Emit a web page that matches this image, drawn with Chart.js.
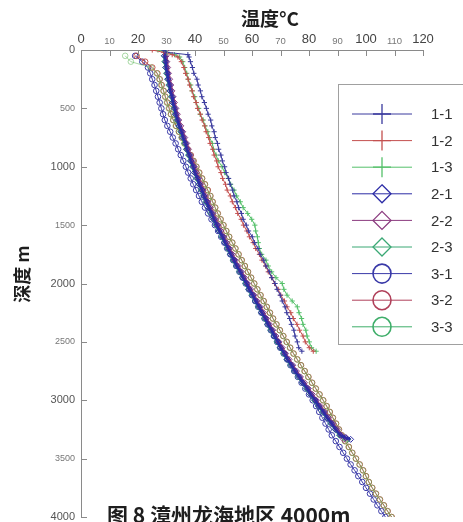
<!DOCTYPE html>
<html>
<head>
<meta charset="utf-8">
<script src="https://cdn.jsdelivr.net/npm/chart.js@4.4.1/dist/chart.umd.min.js"></script>
<style>
  html, body { margin: 0; padding: 0; background: #fff; }
  #wrap { position: relative; width: 463px; height: 522px; }
</style>
</head>
<body>
<div id="wrap"><canvas id="tempChart"></canvas></div>
<script>
// depth (m) for each group of wells
const depth1 = [0, 20, 40, 60, 100, 150, 200, 250, 300, 350, 400, 450, 500, 550, 600, 650, 700, 750, 800, 850,
  900, 950, 1000, 1050, 1100, 1150, 1200, 1250, 1300, 1350, 1400, 1450, 1500, 1550, 1600, 1650, 1700, 1750, 1800,
  1850, 1900, 1950, 2000, 2050, 2100, 2150, 2200, 2250, 2300, 2350, 2400, 2450, 2500, 2550, 2580];
const depth2 = [0, 50, 100, 150, 200, 250, 300, 350, 400, 450, 500, 550, 600, 650, 700, 750, 800, 850, 900, 950,
  1000, 1050, 1100, 1150, 1200, 1250, 1300, 1350, 1400, 1450, 1500, 1550, 1600, 1650, 1700, 1750, 1800, 1850, 1900,
  1950, 2000, 2050, 2100, 2150, 2200, 2250, 2300, 2350, 2400, 2450, 2500, 2550, 2600, 2650, 2700, 2750, 2800, 2850,
  2900, 2950, 3000, 3050, 3100, 3150, 3200, 3250, 3300, 3320, 3335];
const depth3 = [50, 100, 150, 200, 250, 300, 350, 400, 450, 500, 550, 600, 650, 700, 750, 800, 850, 900, 950, 1000,
  1050, 1100, 1150, 1200, 1250, 1300, 1350, 1400, 1450, 1500, 1550, 1600, 1650, 1700, 1750, 1800, 1850, 1900, 1950,
  2000, 2050, 2100, 2150, 2200, 2250, 2300, 2350, 2400, 2450, 2500, 2550, 2600, 2650, 2700, 2750, 2800, 2850, 2900,
  2950, 3000, 3050, 3100, 3150, 3200, 3250, 3300, 3350, 3400, 3450, 3500, 3550, 3600, 3650, 3700, 3750, 3800, 3850,
  3900, 3950, 4000];

// temperature (°C)
const t11 = [29, 30.2, 37.5, 37.9, 38.4, 39.1, 39.6, 40.7, 41.1, 41.9, 42.4, 43.3, 44.0, 44.6, 45.5, 45.9, 46.7,
  47.1, 47.9, 48.3, 49.1, 49.6, 50.4, 50.9, 51.8, 52.3, 53.2, 53.7, 54.7, 55.3, 56.3, 56.9, 58.0, 58.8, 60.1, 60.9,
  62.1, 62.9, 64.1, 64.9, 66.1, 66.9, 68.1, 68.8, 69.9, 70.6, 71.6, 72.2, 73.2, 73.8, 74.7, 75.1, 75.9, 76.4, 77.5];
const t12 = [25, 29, 32, 34, 35.2, 36.1, 36.7, 37.6, 38.1, 39.0, 39.5, 40.4, 40.9, 41.9, 42.5, 43.4, 43.9, 44.8,
  45.3, 46.2, 46.7, 47.6, 48.1, 49.1, 49.7, 50.7, 51.3, 52.4, 53.1, 54.2, 55.0, 56.2, 57.0, 58.2, 59.1, 60.4, 61.3,
  62.6, 63.5, 64.8, 65.7, 67.0, 67.9, 69.2, 70.1, 71.4, 72.3, 73.6, 74.5, 75.8, 76.7, 77.9, 78.7, 80.1, 81.5];
const t13 = [27, 30, 32.8, 34.6, 35.7, 36.4, 37.1, 37.6, 38.5, 39.0, 39.9, 40.4, 41.3, 41.8, 42.9, 43.5, 44.5,
  45.1, 46.1, 46.5, 47.4, 48.2, 49.5, 50.4, 51.7, 52.5, 53.7, 54.6, 55.9, 56.9, 58.5, 59.9, 61.0, 61.3, 61.9, 62.2,
  62.6, 63.4, 64.9, 65.7, 66.9, 68.4, 70.6, 71.2, 72.3, 74.1, 75.9, 76.5, 77.4, 77.9, 78.9, 79.3, 80.1, 80.9, 82.5];

const t21 = [29.5, 29.3, 29.7, 29.8, 30.3, 30.5, 31.1, 31.3, 32.0, 32.2, 32.9, 33.2, 33.9, 34.4, 35.3, 35.8, 36.7,
  37.1, 38.0, 38.5, 39.4, 39.9, 40.9, 41.5, 42.5, 43.1, 44.1, 44.8, 45.9, 46.6, 47.7, 48.5, 49.7, 50.5, 51.7, 52.5,
  53.7, 54.6, 55.9, 56.8, 58.1, 59.0, 60.3, 61.2, 62.5, 63.4, 64.7, 65.6, 66.9, 67.8, 69.1, 70.0, 71.4, 72.4, 73.9,
  75.0, 76.6, 77.8, 79.4, 80.6, 82.2, 83.4, 85.1, 86.3, 88.0, 89.3, 91.0, 92.8, 94.6];
const t22 = [29.8, 29.9, 30.1, 30.4, 30.7, 31.1, 31.5, 31.9, 32.3, 32.8, 33.3, 33.8, 34.3, 35.0, 35.7, 36.4, 37.1,
  37.7, 38.4, 39.1, 39.8, 40.5, 41.3, 42.1, 42.9, 43.7, 44.5, 45.4, 46.3, 47.2, 48.1, 49.1, 50.1, 51.1, 52.1, 53.1,
  54.1, 55.2, 56.3, 57.4, 58.5, 59.6, 60.7, 61.8, 62.9, 64.0, 65.1, 66.2, 67.3, 68.4, 69.5, 70.6, 71.8, 73.0, 74.3,
  75.6, 77.0, 78.4, 79.8, 81.2, 82.6, 84.0, 85.5, 86.9, 88.4, 89.9, 91.4, 93.0, 92.2];
const t23 = [29.3, 29.2, 29.4, 29.7, 30.0, 30.4, 30.8, 31.2, 31.7, 32.1, 32.6, 33.1, 33.6, 34.3, 35.0, 35.7, 36.4,
  37.0, 37.7, 38.4, 39.1, 39.8, 40.6, 41.4, 42.2, 43.0, 43.8, 44.7, 45.6, 46.5, 47.4, 48.4, 49.4, 50.4, 51.4, 52.4,
  53.4, 54.5, 55.6, 56.7, 57.8, 58.9, 60.0, 61.1, 62.2, 63.3, 64.4, 65.5, 66.6, 67.7, 68.8, 69.9, 71.1, 72.3, 73.6,
  74.9, 76.3, 77.7, 79.1, 80.5, 81.9, 83.3, 84.8, 86.2, 87.7, 89.2, 90.7, 92.2, 93.6];

const t31 = [19.0, 21.5, 23.5, 24.3, 25.0, 25.8, 26.4, 27.0, 27.6, 28.2, 28.8, 29.4, 30.3, 31.3, 32.2, 33.2, 34.1,
  35.0, 35.9, 36.8, 37.6, 38.5, 39.4, 40.4, 41.4, 42.4, 43.5, 44.6, 45.8, 47.0, 48.1, 49.2, 50.3, 51.3, 52.4, 53.4,
  54.5, 55.6, 56.7, 57.8, 58.9, 60.0, 61.1, 62.2, 63.3, 64.4, 65.5, 66.6, 67.7, 68.8, 69.9, 71.1, 72.3, 73.5, 74.8,
  76.1, 77.4, 78.7, 80.0, 81.3, 82.5, 83.6, 84.7, 85.8, 86.9, 88.0, 89.4, 90.7, 92.0, 93.3, 94.6, 96.0, 97.3, 98.7,
  100.0, 101.4, 102.7, 104.0, 105.4, 106.8];
const t32 = [19.5, 22.5, 25.0, 26.8, 27.6, 28.3, 29.0, 29.6, 30.3, 31.0, 31.6, 32.4, 33.4, 34.4, 35.4, 36.4, 37.4,
  38.5, 39.5, 40.5, 41.5, 42.5, 43.5, 44.5, 45.4, 46.2, 47.1, 48.0, 49.0, 50.0, 51.0, 52.0, 53.1, 54.2, 55.3, 56.4,
  57.5, 58.6, 59.7, 60.8, 61.9, 63.0, 64.1, 65.2, 66.3, 67.4, 68.6, 69.8, 71.0, 72.2, 73.4, 74.6, 75.9, 77.2, 78.5,
  79.8, 81.1, 82.4, 83.7, 85.0, 86.2, 87.3, 88.4, 89.5, 90.5, 91.5, 92.7, 94.0, 95.2, 96.5, 97.8, 99.0, 100.0, 101.0,
  102.2, 103.5, 104.9, 106.3, 107.6, 109.0];
const t33 = [15.5, 17.5, 24.5, 26.6, 27.5, 28.1, 28.9, 29.5, 30.1, 30.8, 31.5, 32.3, 33.2, 34.3, 35.3, 36.2, 37.3,
  38.3, 39.4, 40.4, 41.3, 42.4, 43.4, 44.3, 45.3, 46.1, 47.0, 47.9, 48.9, 49.9, 50.9, 51.9, 53.0, 54.1, 55.2, 56.3,
  57.4, 58.5, 59.6, 60.7, 61.8, 62.9, 64.0, 65.1, 66.2, 67.3, 68.5, 69.7, 70.9, 72.1, 73.3, 74.5, 75.8, 77.1, 78.4,
  79.7, 81.0, 82.3, 83.6, 84.9, 86.1, 87.2, 88.3, 89.4, 90.4, 91.4, 92.6, 93.9, 95.1, 96.4, 97.7, 98.9, 99.9, 101.0,
  102.1, 103.4, 104.8, 106.2, 107.5, 108.9];

const seriesNames = ['1-1', '1-2', '1-3', '2-1', '2-2', '2-3', '3-1', '3-2', '3-3'];
const xTicks = [0, 10, 20, 30, 40, 50, 60, 70, 80, 90, 100, 110, 120];
const yTicks = [0, 500, 1000, 1500, 2000, 2500, 3000, 3500, 4000];

const pts = (temps, depths) => temps.map((t, i) => ({ x: t, y: depths[i] }));

const TICK_FONT = '"Liberation Sans", Arial, sans-serif';
const CJK_FONT = '"Noto Sans CJK SC", "Noto Sans", sans-serif';

const styles = [
  { color: '#3b3b9e', legend: '#3b3b9e', point: 'cross', r: 2.6, bw: 1 },
  { color: '#c4504f', legend: '#c4504f', point: 'cross', r: 2.6, bw: 1 },
  { color: '#55c06a', legend: '#55c06a', point: 'cross', r: 2.6, bw: 1 },
  { color: '#2c2ca6', legend: '#2c2ca6', point: 'rectRot', r: 3, bw: 2.5 },
  { color: '#8b3b7f', legend: '#8b3b7f', point: 'rectRot', r: 3, bw: 2.5 },
  { color: '#3aa874', legend: '#3aa874', point: 'rectRot', r: 3, bw: 2.5 },
  { color: '#3a3aa8', legend: '#3a3aa8', point: 'circle', r: 2.8, bw: 1 },
  { color: '#c0504a', legend: '#b0405a', point: 'circle', r: 2.8, bw: 1 },
  { color: 'rgba(100,185,95,0.55)', legend: '#3fae6a', point: 'circle', r: 2.8, bw: 1 },
];
const seriesData = [
  pts(t11, depth1), pts(t12, depth1), pts(t13, depth1),
  pts(t21, depth2), pts(t22, depth2), pts(t23, depth2),
  pts(t31, depth3), pts(t32, depth3), pts(t33, depth3),
];
// draw stacking: lower order on top
const drawOrder = [1, 2, 3, 4, 5, 6, 9, 8, 7];

const datasets = seriesNames.map((name, i) => ({
  label: name,
  data: seriesData[i],
  showLine: true,
  borderColor: styles[i].color,
  borderWidth: styles[i].bw,
  pointStyle: styles[i].point,
  pointRadius: styles[i].r,
  pointBorderWidth: 1,
  pointBorderColor: styles[i].color,
  pointBackgroundColor: 'rgba(0,0,0,0)',
  order: drawOrder[i],
}));

const decorations = {
  id: 'decorations',
  afterDraw(chart) {
    const { ctx, scales: { x, y } } = chart;
    ctx.save();

    // inner tick marks
    ctx.strokeStyle = '#8a8a8a';
    ctx.lineWidth = 1;
    ctx.beginPath();
    xTicks.forEach((v) => {
      const px = Math.round(x.getPixelForValue(v)) + 0.5;
      ctx.moveTo(px, y.top);
      ctx.lineTo(px, y.top + 6);
    });
    yTicks.forEach((v) => {
      const py = Math.round(y.getPixelForValue(v)) + 0.5;
      ctx.moveTo(x.left, py);
      ctx.lineTo(x.left + 6, py);
    });
    ctx.stroke();

    // axis titles
    ctx.fillStyle = '#1e1e1e';
    ctx.font = 'bold 19px ' + CJK_FONT;
    ctx.textAlign = 'center';
    ctx.textBaseline = 'alphabetic';
    ctx.fillText('温度°C', 270, 26);

    ctx.save();
    ctx.translate(29, 274);
    ctx.rotate(-Math.PI / 2);
    ctx.font = 'bold 18px ' + CJK_FONT;
    ctx.fillText('深度 m', 0, 0);
    ctx.restore();

    // legend
    const bx = 338.5, by = 84.5, bw = 140, bh = 260;
    ctx.fillStyle = '#fff';
    ctx.fillRect(bx, by, bw, bh);
    ctx.strokeStyle = '#a0a0a0';
    ctx.strokeRect(bx, by, bw, bh);
    chart.data.datasets.forEach((ds, i) => {
      const st = styles[i];
      const cy = 114 + i * 26.6;
      const cx = 382;
      ctx.strokeStyle = st.legend;
      ctx.lineWidth = 1;
      ctx.beginPath();
      ctx.moveTo(352, cy);
      ctx.lineTo(412, cy);
      ctx.stroke();
      ctx.lineWidth = 1.3;
      ctx.beginPath();
      if (st.point === 'cross') {
        ctx.moveTo(cx - 9, cy); ctx.lineTo(cx + 9, cy);
        ctx.moveTo(cx, cy - 10); ctx.lineTo(cx, cy + 10);
      } else if (st.point === 'rectRot') {
        ctx.moveTo(cx, cy - 9); ctx.lineTo(cx + 9, cy);
        ctx.lineTo(cx, cy + 9); ctx.lineTo(cx - 9, cy);
        ctx.closePath();
      } else {
        ctx.lineWidth = 1.6;
        ctx.ellipse(cx, cy, 9, 9.5, 0, 0, Math.PI * 2);
      }
      ctx.stroke();
      ctx.fillStyle = '#333';
      ctx.font = '15px ' + TICK_FONT;
      ctx.textAlign = 'left';
      ctx.textBaseline = 'middle';
      ctx.fillText(ds.label, 431, cy + 1);
    });

    // caption
    ctx.fillStyle = '#1e1e1e';
    ctx.font = 'bold 21px ' + CJK_FONT;
    ctx.textAlign = 'left';
    ctx.textBaseline = 'alphabetic';
    ctx.fillText('图 8 漳州龙海地区 4000m', 107, 523);

    ctx.restore();
  },
};

new Chart(document.getElementById('tempChart'), {
  type: 'scatter',
  data: { datasets },
  plugins: [decorations],
  options: {
    responsive: true,
    maintainAspectRatio: false,
    animation: false,
    layout: { padding: { right: 40, bottom: 2 } },
    plugins: {
      legend: { display: false },
      tooltip: { enabled: false },
    },
    scales: {
      x: {
        type: 'linear',
        position: 'top',
        min: 0,
        max: 120,
        afterBuildTicks: (scale) => { scale.ticks = xTicks.map((v) => ({ value: v })); },
        afterFit: (scale) => { scale.height = 50; scale.paddingLeft = 0; scale.paddingRight = 0; },
        grid: { display: false, drawTicks: false },
        border: { display: true, color: '#8a8a8a', width: 1 },
        ticks: {
          autoSkip: false,
          maxRotation: 0,
          padding: 3,
          callback: (v) => String(v),
          color: (c) => (c.tick && c.tick.value % 20 === 0 ? '#444' : '#777'),
          font: (c) => ({ family: TICK_FONT, size: c.tick && c.tick.value % 20 === 0 ? 13 : 9.5 }),
        },
      },
      y: {
        type: 'linear',
        position: 'left',
        reverse: true,
        min: 0,
        max: 4000,
        afterBuildTicks: (scale) => { scale.ticks = yTicks.map((v) => ({ value: v })); },
        afterFit: (scale) => { scale.width = 81; scale.paddingTop = 0; scale.paddingBottom = 0; },
        grid: { display: false, drawTicks: false },
        border: { display: true, color: '#8a8a8a', width: 1 },
        ticks: {
          autoSkip: false,
          padding: 6,
          callback: (v) => String(v),
          color: (c) => (c.tick && c.tick.value % 1000 === 0 ? '#555' : '#777'),
          font: (c) => ({ family: TICK_FONT, size: c.tick && c.tick.value % 1000 === 0 ? 11 : 9 }),
        },
      },
    },
  },
});
</script>
</body>
</html>
